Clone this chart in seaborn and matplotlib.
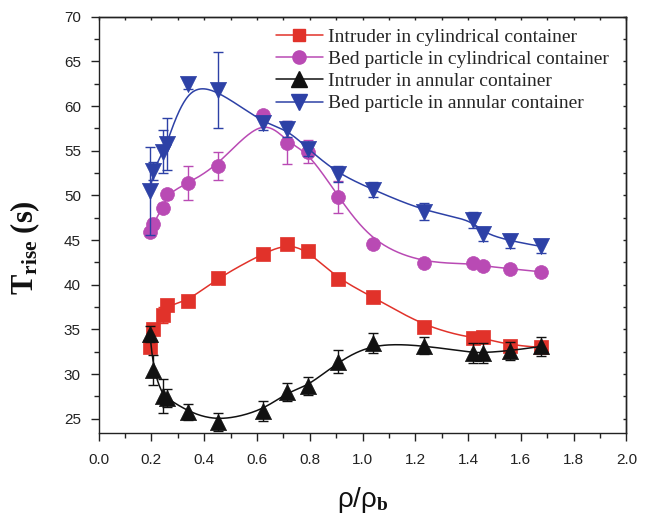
import numpy as np
import pandas as pd
import matplotlib
matplotlib.use("Agg")
import matplotlib.pyplot as plt
from matplotlib.lines import Line2D
from matplotlib.ticker import MultipleLocator, FormatStrFormatter
import seaborn as sns

# density ratio rho/rho_b
ratio = [0.195, 0.205, 0.245, 0.258, 0.338, 0.453, 0.622, 0.714, 0.794, 0.908,
         1.040, 1.234, 1.417, 1.456, 1.559, 1.676]

# rise time (s) and error for each series
intruder_cyl = [33.0, 35.1, 36.6, 37.7, 38.15, 40.8, 43.5, 44.6, 43.8, 40.6,
                38.65, 35.3, 34.0, 34.1, 33.2, 33.0]
intruder_cyl_err = [0.4, 0.5, 0.9, 0.5, 0.5, 0.4, 0.4, 0.4, 0.4, 0.4,
                    0.4, 0.4, 0.4, 0.4, 0.4, 0.4]

bed_cyl = [45.9, 46.8, 48.6, 50.15, 51.4, 53.3, 59.0, 55.9, 54.9, 49.85,
           44.55, 42.4, 42.4, 42.1, 41.8, 41.45]
bed_cyl_err = [0.4, 0.6, 0.5, 0.5, 1.9, 1.6, 0.5, 2.4, 1.3, 1.8,
               0.4, 0.3, 0.3, 0.3, 0.3, 0.3]

intruder_ann = [34.5, 30.45, 27.5, 27.35, 25.8, 24.65, 25.9, 28.0, 28.65, 31.4,
                33.5, 33.2, 32.4, 32.4, 32.6, 33.1]
intruder_ann_err = [0.9, 1.7, 1.9, 1.0, 0.9, 1.0, 1.1, 1.0, 1.0, 1.3,
                    1.1, 1.0, 1.1, 1.1, 1.0, 1.1]

bed_ann = [50.5, 52.75, 54.9, 55.8, 62.5, 61.8, 58.1, 57.4, 55.2, 52.4,
           50.65, 48.2, 47.3, 45.7, 44.9, 44.3]
bed_ann_err = [4.9, 1.0, 2.4, 2.9, 0.6, 4.3, 0.8, 0.9, 0.8, 0.9,
               0.8, 0.9, 0.9, 0.8, 0.8, 0.7]

labels = ["Intruder in cylindrical container",
          "Bed particle in cylindrical container",
          "Intruder in annular container",
          "Bed particle in annular container"]


def bspline(xs, ys, n=400, k=3):
    """Clamped cubic B-spline using the data points as control points."""
    pts = np.column_stack([xs, ys])
    m = len(pts)
    knots = np.concatenate([np.zeros(k), np.linspace(0, 1, m - k + 1), np.ones(k)])
    t = np.linspace(0, 1, n)
    N = np.zeros((n, len(knots) - 1))
    for i in range(len(knots) - 1):
        N[:, i] = (knots[i] <= t) & (t < knots[i + 1])
    N[-1, :] = 0
    N[-1, m - 1] = 1
    for p in range(1, k + 1):
        Nn = np.zeros((n, len(knots) - 1 - p))
        for i in range(len(knots) - 1 - p):
            d1 = knots[i + p] - knots[i]
            d2 = knots[i + p + 1] - knots[i + 1]
            a = (t - knots[i]) / d1 * N[:, i] if d1 > 0 else 0
            b = (knots[i + p + 1] - t) / d2 * N[:, i + 1] if d2 > 0 else 0
            Nn[:, i] = a + b
        N = Nn
    curve = N @ pts
    return curve[:, 0], curve[:, 1]


sns.set_theme(style="ticks")
plt.rcParams["font.family"] = ["Liberation Sans", "DejaVu Sans"]
plt.rcParams["mathtext.fontset"] = "custom"
plt.rcParams["mathtext.rm"] = "Liberation Serif"
plt.rcParams["mathtext.bf"] = "Liberation Serif:bold"
plt.rcParams["mathtext.it"] = "Liberation Serif:italic"

fig = plt.figure(figsize=(6.49, 5.24), dpi=100)
ax = fig.add_axes([0.152, 0.173, 0.8133, 0.795])

series = [
    (intruder_cyl, intruder_cyl_err, "#E1322A", "s", 88),
    (bed_cyl, bed_cyl_err, "#B94AB4", "o", 100),
    (intruder_ann, intruder_ann_err, "#111111", "^", 135),
    (bed_ann, bed_ann_err, "#2D41A6", "v", 135),
]

handles = []
for idx, (vals, errs, color, marker, size) in enumerate(series):
    z = 2 + idx
    cx, cy = bspline(ratio, vals)
    sns.lineplot(x=cx, y=cy, ax=ax, color=color, lw=1.1, sort=False,
                 estimator=None, zorder=z)
    ax.errorbar(ratio, vals, yerr=errs, fmt="none", ecolor=color, elinewidth=1.0,
                capsize=3.6, capthick=1.0, zorder=z)
    df = pd.DataFrame({"ratio": ratio, "t": vals})
    sns.scatterplot(data=df, x="ratio", y="t", ax=ax, marker=marker, s=size,
                    color=color, edgecolor=color, linewidth=0.5, zorder=z + 0.5)
    handles.append(Line2D([], [], color=color, lw=1.1, marker=marker,
                          markersize=np.sqrt(size) * 0.95, markeredgecolor=color))

ax.set_xlim(0, 2.0)
ax.set_ylim(23.37, 70)
ax.xaxis.set_major_locator(MultipleLocator(0.2))
ax.xaxis.set_minor_locator(MultipleLocator(0.1))
ax.xaxis.set_major_formatter(FormatStrFormatter("%.1f"))
ax.yaxis.set_major_locator(MultipleLocator(5))
ax.yaxis.set_minor_locator(MultipleLocator(2.5))

ax.tick_params(which="major", direction="out", length=5.8, width=1.0,
               labelsize=11, colors="#222222", top=False, right=False)
ax.tick_params(which="minor", direction="out", length=3.5, width=1.0,
               top=False, right=False, colors="#222222")
ax.tick_params(axis="y", which="major", pad=7)
ax.tick_params(axis="x", which="major", pad=8)

# inward ticks on the top and right frame
top = ax.secondary_xaxis("top")
top.xaxis.set_major_locator(MultipleLocator(0.1))
top.tick_params(direction="in", length=2.5, width=1.0, labeltop=False, colors="#222222")
right = ax.secondary_yaxis("right")
right.yaxis.set_major_locator(MultipleLocator(2.5))
right.tick_params(direction="in", length=2.5, width=1.0, labelright=False, colors="#222222")
for sec in (top, right):
    for sp in sec.spines.values():
        sp.set_linewidth(1.0)
        sp.set_color("#222222")

for sp in ax.spines.values():
    sp.set_linewidth(1.0)
    sp.set_color("#222222")
    sp.set_visible(True)

ax.set_xlabel("ρ/ρ$_\\mathbf{b}$", fontsize=20, color="#111111")
ax.set_ylabel(r"$\mathbf{T_{rise}\ (s)}$", fontsize=22, color="#111111")
ax.xaxis.set_label_coords(0.5, -0.125)
ax.yaxis.set_label_coords(-0.107, 0.445)

ax.legend(handles, labels, loc="upper left", bbox_to_anchor=(276 / 649, 1 - 28 / 524),
          bbox_transform=fig.transFigure, frameon=False, borderpad=0, borderaxespad=0,
          handlelength=2.4, handletextpad=0.28, labelspacing=0.24,
          prop={"family": "Liberation Serif", "size": 14})

fig.savefig("out.png", dpi=100)
